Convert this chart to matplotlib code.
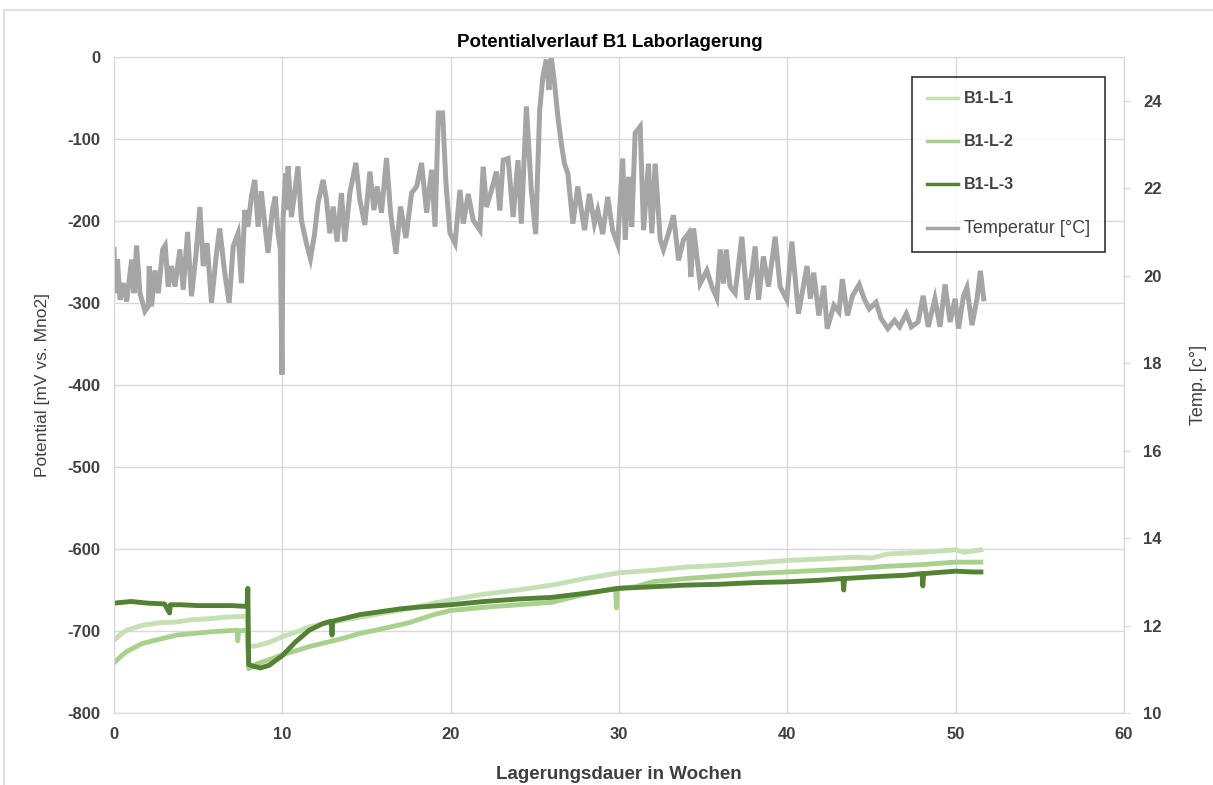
import matplotlib
matplotlib.use("Agg")
import matplotlib.pyplot as plt
from matplotlib.patches import Rectangle
from matplotlib.lines import Line2D

plt.rcParams['font.family'] = ['Liberation Sans', 'DejaVu Sans']
plt.rcParams['axes.unicode_minus'] = False

# --- data (weeks / mV / degC) ---
l1_weeks = [0, 0.4, 0.75, 1.7, 2.7, 3.7, 4.7, 5.7, 6.7, 7.9, 8.0, 8.5, 9.2, 10, 11, 11.6,
            12.5, 13.5, 15, 16, 17.5, 19, 20, 22, 24, 26, 28, 30, 32, 34, 36, 38, 40, 42,
            44, 45, 46, 48, 50, 50.5, 51.5]
l1_mv = [-711, -704, -699, -693, -690, -689, -686, -685, -683, -682, -719, -718, -714, -707,
         -700, -695, -691, -687, -682, -678, -673, -666, -662, -655, -650, -644, -636, -629,
         -626, -622, -620, -617, -614, -612, -610, -611, -606, -604, -601, -604, -601]

l2_weeks = [0, 0.4, 0.75, 1.7, 2.7, 3.7, 4.7, 5.7, 6.5, 7.3, 7.35, 7.4, 7.9, 8.0, 8.5, 9.5,
            10, 11.6, 13.6, 14.6, 16, 17.5, 19, 20, 22, 24, 26, 28, 29.8, 29.85, 29.9, 31,
            32, 34, 36, 38, 40, 42, 44, 46, 48, 50, 51.5]
l2_mv = [-739, -731, -725, -715, -710, -705, -703, -701, -700, -699, -712, -700, -699, -746,
         -740, -733, -729, -719, -709, -703, -697, -690, -680, -675, -671, -668, -665, -655,
         -648, -672, -648, -646, -640, -636, -633, -630, -628, -626, -624, -621, -619, -616,
         -616]

l3_weeks = [0, 1, 2, 3, 3.3, 3.35, 4, 5, 6, 7, 7.9, 7.95, 8.0, 8.3, 8.7, 9.2, 10, 10.8,
            11.6, 12.4, 12.9, 12.95, 13.0, 13.6, 14.6, 16, 17, 18, 20, 22, 24, 26, 28, 30,
            32, 34, 36, 38, 40, 42, 43.3, 43.35, 43.4, 45, 47, 48, 48.05, 48.1, 50, 51, 51.5]
l3_mv = [-666, -664, -666, -667, -678, -668, -668, -669, -669, -669, -670, -648, -741, -743,
         -745, -742, -730, -713, -699, -691, -688, -705, -688, -685, -680, -676, -673, -671,
         -668, -664, -661, -659, -654, -648, -646, -644, -643, -641, -640, -638, -636, -650,
         -636, -634, -632, -630, -645, -630, -627, -628, -628]

temp_weeks = [
    0, 0.08, 0.2, 0.36, 0.55, 0.75, 1.05, 1.19, 1.34, 1.54, 1.84, 2.04, 2.09, 2.23, 2.43,
    2.63, 2.89, 3.04, 3.22, 3.42, 3.62, 3.91, 4.11, 4.37, 4.6, 4.86, 5.1, 5.3, 5.53, 5.79,
    6.09, 6.28, 6.58, 6.84, 7.08, 7.37, 7.57, 7.77, 7.96, 8.16, 8.36, 8.56, 8.75, 8.95,
    9.15, 9.41, 9.58, 9.74, 9.88, 9.98, 10.04, 10.2,
    10.24, 10.34, 10.54, 10.73, 10.93, 11.13, 11.43, 11.67, 11.92, 12.12, 12.42, 12.62,
    12.82, 13.02, 13.25, 13.51, 13.71, 14.01, 14.37, 14.6, 14.9, 15.2, 15.44, 15.63, 15.89,
    16.19, 16.43, 16.75, 17.02, 17.34, 17.68, 17.98, 18.27, 18.57, 18.87, 19.07, 19.27,
    19.52, 19.72, 19.96, 20.26,
    20.55, 20.75, 21.04, 21.34, 21.74, 21.93, 22.13, 22.43, 22.72, 22.92, 23.12, 23.41,
    23.71, 24.0, 24.2, 24.5, 24.79, 25.05, 25.29, 25.48, 25.68, 25.84, 25.98, 26.17, 26.37,
    26.57, 26.76, 26.96, 27.26, 27.55, 27.95, 28.24, 28.54, 28.74, 29.03, 29.33, 29.62,
    29.92, 30.22,
    30.37, 30.57, 30.76, 30.96, 31.26, 31.46, 31.75, 31.95, 32.15, 32.45, 32.64, 32.94,
    33.24, 33.54, 33.83, 34.13, 34.27, 34.43, 34.82, 35.22, 35.52, 35.81, 36.01, 36.21,
    36.37, 36.6, 36.9, 37.3, 37.6, 37.89, 38.09, 38.29, 38.58, 38.88, 39.28, 39.57, 39.97,
    40.27, 40.66,
    41.17, 41.37, 41.57, 41.87, 42.17, 42.37, 42.77, 43.07, 43.27, 43.57, 43.87, 44.27,
    44.57, 44.87, 45.27, 45.57, 45.97, 46.37, 46.67, 47.07, 47.37, 47.77, 48.07, 48.37,
    48.77, 49.07, 49.37, 49.67, 49.97, 50.17, 50.47, 50.67, 50.97, 51.27, 51.47, 51.67]
temp_c = [
    20.6, 19.6, 20.37, 19.45, 19.83, 19.41, 20.37, 19.6, 20.69, 19.6, 19.19, 19.3, 20.22,
    19.3, 20.12, 19.6, 20.6, 20.69, 19.75, 20.22, 19.75, 20.6, 19.68, 21.0, 19.53, 20.44,
    21.57, 20.22, 20.74, 19.38, 20.52, 21.08, 20.05, 19.38, 20.67, 20.97, 19.83, 21.5,
    21.12, 21.81, 22.19, 21.12, 21.93, 21.2, 20.52, 21.5, 21.81, 20.97, 20.6, 17.74, 21.27,
    22.34,
    21.5, 22.5, 21.34, 21.89, 22.5, 21.27, 20.74, 20.39, 20.97, 21.66, 22.19, 21.74, 20.97,
    21.58, 20.78, 21.89, 20.78, 21.89, 22.58, 21.74, 21.16, 22.38, 21.5, 22.04, 21.44,
    22.69, 21.44, 20.5, 21.58, 20.86, 21.89, 22.04, 22.58, 21.44, 22.42, 21.12, 23.72,
    23.72, 22.11, 20.97, 20.74,
    21.96, 21.19, 21.87, 21.27, 21.04, 22.49, 21.57, 21.96, 22.38, 21.49, 22.64, 22.68,
    21.34, 22.64, 21.19, 23.87, 21.96, 20.95, 23.8, 24.55, 24.94, 24.25, 24.98, 24.4, 23.63,
    23.03, 22.56, 22.34, 21.19, 22.04, 21.04, 21.87, 21.19, 21.49, 20.95, 21.8, 21.04,
    20.72, 22.68,
    20.82, 22.26, 21.12, 23.26, 23.41, 21.04, 22.56, 20.97, 22.56, 20.82, 20.6, 20.97,
    21.38, 20.35, 20.82, 20.97, 19.97, 21.08, 19.82, 20.12, 19.75, 19.49, 20.6, 19.82,
    20.6, 19.75, 19.6, 20.89, 19.45, 20.05, 20.67, 19.45, 20.44, 19.75, 20.89, 19.75, 19.45,
    20.78, 19.13,
    20.22, 19.47, 20.07, 19.09, 19.77, 18.79, 19.32, 19.17, 19.92, 19.09, 19.54, 19.8,
    19.47, 19.24, 19.39, 19.02, 18.79, 18.98, 18.83, 19.13, 18.83, 18.94, 19.54, 18.83,
    19.47, 18.83, 19.8, 18.94, 19.47, 18.79, 19.54, 19.73, 18.87, 19.47, 20.11, 19.47]

series_names = ['B1-L-1', 'B1-L-2', 'B1-L-3', 'Temperatur [°C]']
colors = ['#c5e0b4', '#a9d18e', '#548235', '#a5a5a5']
txt = '#404040'
gridc = '#d9d9d9'

fig = plt.figure(figsize=(12.13, 7.85), dpi=100)
ax = fig.add_axes([0.094, 0.0917, 0.8326, 0.8357])
ax2 = ax.twinx()

ax.plot(l1_weeks, l1_mv, color=colors[0], lw=3.5, zorder=3)
ax.plot(l2_weeks, l2_mv, color=colors[1], lw=3.5, zorder=3)
ax.plot(l3_weeks, l3_mv, color=colors[2], lw=3.5, zorder=4)
ax2.plot(temp_weeks, temp_c, color=colors[3], lw=3.6, solid_joinstyle='miter')

ax.set_xlim(0, 60)
ax.set_ylim(-800, 0)
ax2.set_ylim(10, 25)
ax.set_xticks(range(0, 61, 10))
ax.set_yticks(range(-800, 1, 100))
ax2.set_yticks(range(10, 25, 2))

ax.grid(True, color=gridc, lw=1)
ax.set_axisbelow(True)
for a in (ax, ax2):
    for s in a.spines.values():
        s.set_color(gridc)
ax.tick_params(axis='both', length=0, colors=txt, labelsize=12, pad=10)
ax2.tick_params(axis='y', length=4, color=gridc, labelcolor=txt, labelsize=12, pad=10)
for lab in ax.get_xticklabels() + ax.get_yticklabels() + ax2.get_yticklabels():
    lab.set_fontweight('bold')

ax.set_xlabel('Lagerungsdauer in Wochen', fontsize=13.5, fontweight='bold', color=txt,
              labelpad=17)
ax.set_ylabel('Potential [mV vs. Mno2]', fontsize=12.5, color=txt, labelpad=12)
ax2.set_ylabel('Temp. [c°]', fontsize=13, color=txt, labelpad=20)
fig.suptitle('Potentialverlauf B1 Laborlagerung', x=0.503, y=0.957, fontsize=13.5,
             fontweight='bold', color='black')

handles = [Line2D([], [], color=c, lw=2.5) for c in colors]
leg = ax2.legend(handles, series_names, loc='upper left', bbox_to_anchor=(0.752, 0.902),
                 bbox_transform=fig.transFigure, borderaxespad=0, frameon=True,
                 fancybox=False, edgecolor='black', fontsize=11.5, handlelength=2.0,
                 labelspacing=1.75, borderpad=0.9, handletextpad=0.35)
leg.get_frame().set_linewidth(1.2)
for i, t in enumerate(leg.get_texts()):
    t.set_color(txt)
    if i < 3:
        t.set_fontweight('bold')
    else:
        t.set_fontsize(13)

fig.patches.append(Rectangle((0.003, -0.01), 1.0, 0.997, transform=fig.transFigure,
                             fill=False, edgecolor=gridc, lw=1.2))

fig.savefig('out.png', dpi=100)
